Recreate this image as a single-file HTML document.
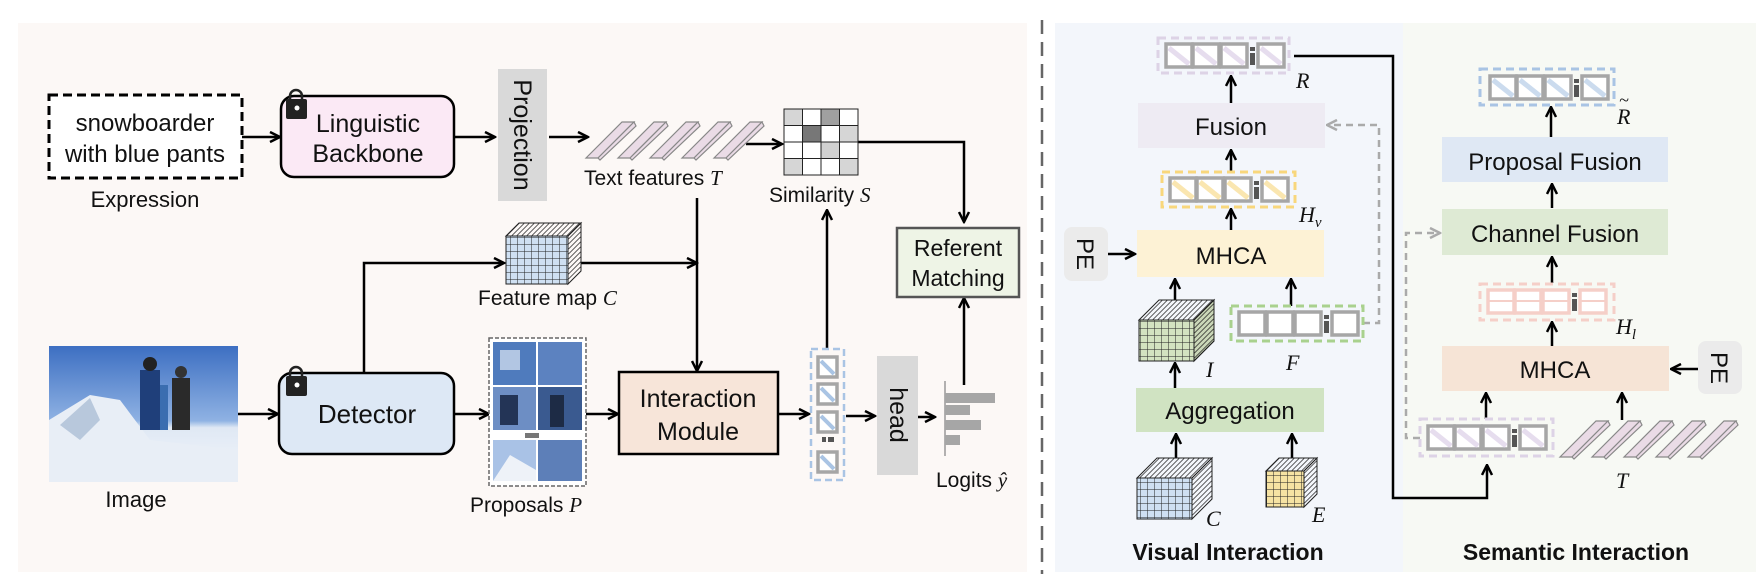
<!DOCTYPE html>
<html><head><meta charset="utf-8"><style>
html,body{margin:0;padding:0;background:#fff}
svg{display:block}
text{font-family:"Liberation Sans Narrow","Liberation Sans",sans-serif;fill:#111}
.it{font-family:"Liberation Serif",serif;font-style:italic}
</style></head><body>
<svg width="1756" height="576" viewBox="0 0 1756 576" xmlns="http://www.w3.org/2000/svg">
<defs>
<marker id="ah" viewBox="0 0 10 10" refX="9" refY="5" markerWidth="5" markerHeight="5" orient="auto-start-reverse"><path d="M1,1 L9,5 L1,9" fill="none" stroke="#000" stroke-width="2"/></marker>
<marker id="ag" viewBox="0 0 10 10" refX="9" refY="5" markerWidth="5" markerHeight="5" orient="auto"><path d="M1,1 L9,5 L1,9" fill="none" stroke="#aaa" stroke-width="2"/></marker>
<pattern id="grid" width="7" height="7" patternUnits="userSpaceOnUse"><path d="M7,0 V7 M0,7 H7" stroke="#222" stroke-width="1"/></pattern>
<pattern id="hatch" width="5" height="5" patternUnits="userSpaceOnUse" patternTransform="skewX(-45)"><path d="M2.5,0 V5" stroke="#222" stroke-width="1"/></pattern>
<g id="tok">
 <rect x="8" y="6" width="26" height="23" fill="#fff" stroke="#a6a6a6" stroke-width="3.5"/>
 <rect x="35" y="6" width="26" height="23" fill="#fff" stroke="#a6a6a6" stroke-width="3.5"/>
 <rect x="63" y="6" width="26" height="23" fill="#fff" stroke="#a6a6a6" stroke-width="3.5"/>
 <rect x="92" y="9" width="5" height="4" fill="#555"/><rect x="92" y="15" width="5" height="12" fill="#555"/>
 <rect x="100" y="6" width="26" height="23" fill="#fff" stroke="#a6a6a6" stroke-width="3.5"/>
 <path d="M11,10 L31,26 M38,10 L58,26 M66,10 L86,26 M103,10 L123,26" stroke="currentColor" stroke-width="5" opacity="0.6"/>
</g>
<g id="bars">
 <g fill="#eadbe6" stroke="#888" stroke-width="1.2">
  <polygon points="0,38 36,2 48,2 12,38"/><polygon points="12,38 48,2 50,6 14,40"/>
  <polygon points="32,38 68,2 80,2 44,38"/><polygon points="44,38 80,2 82,6 46,40"/>
  <polygon points="64,38 100,2 112,2 76,38"/><polygon points="76,38 112,2 114,6 78,40"/>
  <polygon points="96,38 132,2 144,2 108,38"/><polygon points="108,38 144,2 146,6 110,40"/>
  <polygon points="128,38 164,2 176,2 140,38"/><polygon points="140,38 176,2 178,6 142,40"/>
 </g>
</g>
</defs>

<rect x="18" y="23" width="1009" height="549" fill="#fcf8f6"/>
<rect x="1055" y="23" width="348" height="549" fill="#f3f6fb"/>
<rect x="1403" y="23" width="353" height="549" fill="#f7f9f4"/>
<line x1="1042" y1="20" x2="1042" y2="574" stroke="#666" stroke-width="2.5" stroke-dasharray="14,8"/>

<g stroke="#000" stroke-width="2.5" fill="none" marker-end="url(#ah)">
 <line x1="242" y1="137" x2="280" y2="137"/>
 <line x1="454" y1="137" x2="495" y2="137"/>
 <line x1="549" y1="137" x2="588" y2="137"/>
 <line x1="746" y1="144" x2="782" y2="144"/>
 <polyline points="858,142 964,142 964,222"/>
 <polyline points="364,373 364,263 504,263"/>
 <line x1="581" y1="263" x2="697" y2="263"/>
 <line x1="697" y1="198" x2="697" y2="371"/>
 <line x1="238" y1="414" x2="278" y2="414"/>
 <line x1="454" y1="414" x2="489" y2="414"/>
 <line x1="586" y1="414" x2="618" y2="414"/>
 <line x1="778" y1="414" x2="809" y2="414"/>
 <line x1="827" y1="348" x2="827" y2="210"/>
 <line x1="846" y1="416" x2="875" y2="416"/>
 <line x1="918" y1="417" x2="935" y2="417"/>
 <line x1="964" y1="385" x2="964" y2="298"/>
 <line x1="1231" y1="103" x2="1231" y2="76"/>
 <line x1="1231" y1="171" x2="1231" y2="150"/>
 <line x1="1231" y1="230" x2="1231" y2="209"/>
 <line x1="1108" y1="254" x2="1135" y2="254"/>
 <line x1="1175" y1="300" x2="1175" y2="279"/>
 <line x1="1291" y1="306" x2="1291" y2="279"/>
 <line x1="1175" y1="388" x2="1175" y2="363"/>
 <line x1="1176" y1="458" x2="1176" y2="434"/>
 <line x1="1292" y1="458" x2="1292" y2="434"/>
 <polyline points="1294,56 1393,56 1393,498 1487,498 1487,465"/>
 <line x1="1551" y1="137" x2="1551" y2="107"/>
 <line x1="1552" y1="208" x2="1552" y2="184"/>
 <line x1="1552" y1="283" x2="1552" y2="257"/>
 <line x1="1552" y1="346" x2="1552" y2="322"/>
 <line x1="1698" y1="369" x2="1671" y2="369"/>
 <line x1="1486" y1="419" x2="1486" y2="393"/>
 <line x1="1622" y1="420" x2="1622" y2="393"/>
</g>
<g stroke="#aaa" stroke-width="2.5" fill="none" stroke-dasharray="7,5" marker-end="url(#ag)">
 <polyline points="1363,323 1379,323 1379,125 1327,125"/>
 <polyline points="1420,438 1406,438 1406,233 1440,233"/>
</g>

<rect x="49" y="95" width="193" height="83" fill="#fff" stroke="#000" stroke-width="3" stroke-dasharray="9,5"/>
<text x="145" y="131" font-size="24" text-anchor="middle">snowboarder</text>
<text x="145" y="162" font-size="24" text-anchor="middle">with blue pants</text>
<text x="145" y="207" font-size="22" text-anchor="middle">Expression</text>

<rect x="281" y="96" width="173" height="81" rx="13" fill="#fbe9f5" stroke="#000" stroke-width="2.5"/>
<text x="368" y="132" font-size="25" text-anchor="middle">Linguistic</text>
<text x="368" y="162" font-size="25" text-anchor="middle">Backbone</text>
<g><path d="M290,100 v-4 a6,6 0 0 1 12,0 v4" fill="none" stroke="#222" stroke-width="2.5"/><rect x="286" y="99" width="21" height="20" rx="2" fill="#222"/><circle cx="297" cy="108" r="2.5" fill="#fff"/></g>

<rect x="498" y="69" width="49" height="132" fill="#d9d9d9"/>
<text transform="translate(514,135) rotate(90)" font-size="25" text-anchor="middle">Projection</text>

<use href="#bars" x="586" y="120"/>
<text x="584" y="185" font-size="21">Text features <tspan class="it">T</tspan></text>

<g stroke="#222" stroke-width="1">
<rect x="784" y="109" width="18.5" height="16.5" fill="#d6d6d6"/><rect x="802.5" y="109" width="18.5" height="16.5" fill="#fff"/><rect x="821" y="109" width="18.5" height="16.5" fill="#a0a0a0"/><rect x="839.5" y="109" width="18.5" height="16.5" fill="#fff"/>
<rect x="784" y="125.5" width="18.5" height="16.5" fill="#fff"/><rect x="802.5" y="125.5" width="18.5" height="16.5" fill="#777"/><rect x="821" y="125.5" width="18.5" height="16.5" fill="#fff"/><rect x="839.5" y="125.5" width="18.5" height="16.5" fill="#d6d6d6"/>
<rect x="784" y="142" width="18.5" height="16.5" fill="#fff"/><rect x="802.5" y="142" width="18.5" height="16.5" fill="#fff"/><rect x="821" y="142" width="18.5" height="16.5" fill="#d0d0d0"/><rect x="839.5" y="142" width="18.5" height="16.5" fill="#fff"/>
<rect x="784" y="158.5" width="18.5" height="16.5" fill="#d6d6d6"/><rect x="802.5" y="158.5" width="18.5" height="16.5" fill="#fff"/><rect x="821" y="158.5" width="18.5" height="16.5" fill="#fff"/><rect x="839.5" y="158.5" width="18.5" height="16.5" fill="#d6d6d6"/>
</g>
<text x="769" y="202" font-size="21">Similarity <tspan class="it">S</tspan></text>

<rect x="897" y="228" width="122" height="69" fill="#eef4e6" stroke="#555" stroke-width="2.5"/>
<text x="958" y="256" font-size="23" text-anchor="middle">Referent</text>
<text x="958" y="286" font-size="23" text-anchor="middle">Matching</text>

<g stroke="#222" stroke-width="1">
 <polygon points="506,236 519,223 581,223 568,236" fill="url(#hatch)"/>
 <polygon points="568,236 581,223 581,271 568,284" fill="url(#hatch)"/>
 <rect x="506" y="236" width="62" height="48" fill="#cfe0f2"/>
 <rect x="506" y="236" width="62" height="48" fill="url(#grid)"/>
</g>
<text x="478" y="305" font-size="21">Feature map <tspan class="it">C</tspan></text>

<defs><linearGradient id="sky" x1="0" y1="0" x2="0" y2="1"><stop offset="0" stop-color="#3d6fc2"/><stop offset="0.55" stop-color="#8fb2e3"/><stop offset="0.6" stop-color="#dfe8f4"/><stop offset="1" stop-color="#f4f7fb"/></linearGradient></defs>
<rect x="49" y="346" width="189" height="136" fill="url(#sky)"/>
<polygon points="49,420 90,395 120,400 150,440 238,450 238,482 49,482" fill="#e8eef6"/>
<polygon points="60,425 90,398 100,420 80,440" fill="#b8c8dc"/>
<rect x="140" y="370" width="20" height="60" fill="#1f3f7a"/><circle cx="150" cy="364" r="7" fill="#222"/>
<rect x="172" y="378" width="18" height="52" fill="#2a2a2a"/><circle cx="181" cy="372" r="6" fill="#333"/>
<rect x="160" y="385" width="8" height="45" fill="#3a6db0"/>
<text x="136" y="507" font-size="22" text-anchor="middle">Image</text>

<rect x="279" y="373" width="175" height="81" rx="13" fill="#dde8f5" stroke="#000" stroke-width="2.5"/>
<text x="367" y="423" font-size="26" text-anchor="middle">Detector</text>
<g><path d="M290,377 v-4 a6,6 0 0 1 12,0 v4" fill="none" stroke="#222" stroke-width="2.5"/><rect x="286" y="376" width="21" height="20" rx="2" fill="#222"/><circle cx="297" cy="385" r="2.5" fill="#fff"/></g>

<rect x="489" y="338" width="97" height="148" fill="#fff" stroke="#666" stroke-width="1.5" stroke-dasharray="4,2"/>
<g>
 <rect x="493" y="342" width="43" height="43" fill="#4f7bbd"/><rect x="538" y="342" width="44" height="43" fill="#5c82c0"/>
 <rect x="493" y="387" width="43" height="43" fill="#6d8ec4"/><rect x="538" y="387" width="44" height="43" fill="#3a5a90"/>
 <rect x="525" y="433" width="14" height="5" fill="#777"/>
 <rect x="493" y="440" width="43" height="41" fill="#a9c2e6"/><rect x="538" y="440" width="44" height="41" fill="#5d7fb8"/>
 <polygon points="493,481 510,455 536,470 536,481" fill="#eef2f8"/>
 <rect x="500" y="350" width="20" height="20" fill="#dde7f3" opacity=".7"/>
 <rect x="550" y="395" width="14" height="32" fill="#1d2b45"/>
 <rect x="500" y="395" width="18" height="30" fill="#233456"/>
</g>
<text x="470" y="512" font-size="21">Proposals <tspan class="it">P</tspan></text>

<rect x="619" y="372" width="159" height="82" fill="#f7e5d9" stroke="#000" stroke-width="2.5"/>
<text x="698" y="407" font-size="25" text-anchor="middle">Interaction</text>
<text x="698" y="440" font-size="25" text-anchor="middle">Module</text>

<rect x="811" y="349" width="33" height="131" fill="none" stroke="#a9c4e4" stroke-width="2.5" stroke-dasharray="7,4"/>
<g stroke="#a6a6a6" stroke-width="3.5" fill="#fff">
 <rect x="818" y="357" width="19" height="20"/><rect x="818" y="384" width="19" height="20"/><rect x="818" y="412" width="19" height="20"/><rect x="818" y="452" width="19" height="20"/>
</g>
<g stroke="#a9c4e4" stroke-width="4"><path d="M821,361 L834,374 M821,388 L834,401 M821,416 L834,429 M821,456 L834,469"/></g>
<rect x="822" y="437" width="4" height="5" fill="#555"/><rect x="828" y="437" width="6" height="5" fill="#555"/>

<rect x="877" y="356" width="41" height="119" fill="#d9d9d9"/>
<text transform="translate(890,415) rotate(90)" font-size="25" text-anchor="middle">head</text>

<line x1="945" y1="381" x2="945" y2="456" stroke="#999" stroke-width="1.5"/>
<g fill="#a6a6a6"><rect x="945" y="393" width="50" height="10"/><rect x="945" y="405" width="25" height="10"/><rect x="945" y="420" width="36" height="10"/><rect x="945" y="435" width="15" height="10"/></g>
<text x="936" y="487" font-size="21">Logits <tspan class="it">ŷ</tspan></text>

<rect x="1158" y="38" width="131" height="35" fill="none" stroke="#ddd3e6" stroke-width="3" stroke-dasharray="8,5"/>
<use href="#tok" x="1158" y="38" color="#d6c8e3"/>
<text x="1296" y="88" font-size="22" class="it">R</text>
<rect x="1138" y="103" width="187" height="45" fill="#eeebf3"/>
<text x="1231" y="135" font-size="24" text-anchor="middle">Fusion</text>
<rect x="1162" y="172" width="133" height="35" fill="none" stroke="#f8d77c" stroke-width="3" stroke-dasharray="8,5"/>
<use href="#tok" x="1162" y="172" color="#f8d77c"/>
<text x="1299" y="222" font-size="22" class="it">H<tspan font-size="15" dy="5">v</tspan></text>
<rect x="1137" y="230" width="187" height="47" fill="#fdf2d5"/>
<text x="1231" y="264" font-size="24" text-anchor="middle">MHCA</text>
<rect x="1064" y="227" width="44" height="54" rx="8" fill="#ebebeb"/>
<text transform="translate(1077,254) rotate(90)" font-size="24" text-anchor="middle">PE</text>
<g stroke="#222" stroke-width="1">
 <polygon points="1139,320 1159,300 1214,300 1194,320" fill="url(#hatch)"/>
 <polygon points="1194,320 1214,300 1214,341 1194,361" fill="#c9d6b7"/>
 <polygon points="1194,320 1214,300 1214,341 1194,361" fill="url(#hatch)"/>
 <rect x="1139" y="320" width="55" height="41" fill="#d3e3c0"/>
 <rect x="1139" y="320" width="55" height="41" fill="url(#grid)"/>
</g>
<text x="1206" y="377" font-size="22" class="it">I</text>
<rect x="1231" y="306" width="132" height="35" fill="none" stroke="#a9d18e" stroke-width="3" stroke-dasharray="8,5"/>
<g stroke="#a6a6a6" stroke-width="3.5" fill="#fff"><rect x="1239" y="312" width="26" height="23"/><rect x="1267" y="312" width="26" height="23"/><rect x="1295" y="312" width="26" height="23"/><rect x="1332" y="312" width="26" height="23"/></g>
<rect x="1324" y="315" width="5" height="4" fill="#555"/><rect x="1324" y="321" width="5" height="12" fill="#555"/>
<text x="1286" y="370" font-size="22" class="it">F</text>
<rect x="1136" y="388" width="188" height="44" fill="#d0e3c2"/>
<text x="1230" y="419" font-size="24" text-anchor="middle">Aggregation</text>
<g stroke="#222" stroke-width="1">
 <polygon points="1137,478 1157,458 1212,458 1192,478" fill="url(#hatch)"/>
 <polygon points="1192,478 1212,458 1212,499 1192,519" fill="url(#hatch)"/>
 <rect x="1137" y="478" width="55" height="41" fill="#cfe0f2"/>
 <rect x="1137" y="478" width="55" height="41" fill="url(#grid)"/>
</g>
<text x="1206" y="526" font-size="22" class="it">C</text>
<g stroke="#222" stroke-width="1">
 <polygon points="1266,471 1279,458 1317,458 1304,471" fill="url(#hatch)"/>
 <polygon points="1304,471 1317,458 1317,494 1304,507" fill="url(#hatch)"/>
 <rect x="1266" y="471" width="38" height="36" fill="#f6e3a3"/>
 <rect x="1266" y="471" width="38" height="36" fill="url(#grid)"/>
</g>
<text x="1312" y="522" font-size="22" class="it">E</text>
<text x="1228" y="560" font-size="23" font-weight="bold" text-anchor="middle" fill="#333">Visual Interaction</text>

<rect x="1480" y="69" width="134" height="36" fill="none" stroke="#a9c4e4" stroke-width="3" stroke-dasharray="8,5"/>
<use href="#tok" x="1482" y="70" color="#a9c4e4"/>
<text x="1617" y="124" font-size="22" class="it">R</text><text x="1619" y="106" font-size="18" class="it">~</text>
<rect x="1442" y="137" width="226" height="45" fill="#dfe8f4"/>
<text x="1555" y="170" font-size="24" text-anchor="middle">Proposal Fusion</text>
<rect x="1442" y="209" width="226" height="46" fill="#deead4"/>
<text x="1555" y="242" font-size="24" text-anchor="middle">Channel Fusion</text>
<rect x="1480" y="284" width="134" height="36" fill="none" stroke="#f5cfc8" stroke-width="3" stroke-dasharray="8,5"/>
<g stroke="#f5cfc8" stroke-width="3.5" fill="#fff"><rect x="1488" y="290" width="26" height="23"/><rect x="1515" y="290" width="26" height="23"/><rect x="1543" y="290" width="26" height="23"/><rect x="1580" y="290" width="26" height="23"/></g>
<g stroke="#f5cfc8" stroke-width="2"><path d="M1488,301 h26 M1515,301 h26 M1543,301 h26 M1580,301 h26"/></g>
<rect x="1572" y="293" width="5" height="4" fill="#555"/><rect x="1572" y="299" width="5" height="12" fill="#555"/>
<text x="1616" y="334" font-size="22" class="it">H<tspan font-size="15" dy="5">l</tspan></text>
<rect x="1442" y="346" width="227" height="45" fill="#f6e4d6"/>
<text x="1555" y="378" font-size="24" text-anchor="middle">MHCA</text>
<rect x="1698" y="341" width="44" height="53" rx="8" fill="#ebebeb"/>
<text transform="translate(1711,368) rotate(90)" font-size="24" text-anchor="middle">PE</text>
<rect x="1420" y="419" width="133" height="37" fill="none" stroke="#ddd3e6" stroke-width="3" stroke-dasharray="8,5"/>
<use href="#tok" x="1420" y="420" color="#d6c8e3"/>
<use href="#bars" x="1560" y="419"/>
<text x="1616" y="488" font-size="22" class="it">T</text>
<text x="1576" y="560" font-size="23" font-weight="bold" text-anchor="middle" fill="#333">Semantic Interaction</text>
</svg>
</body></html>
